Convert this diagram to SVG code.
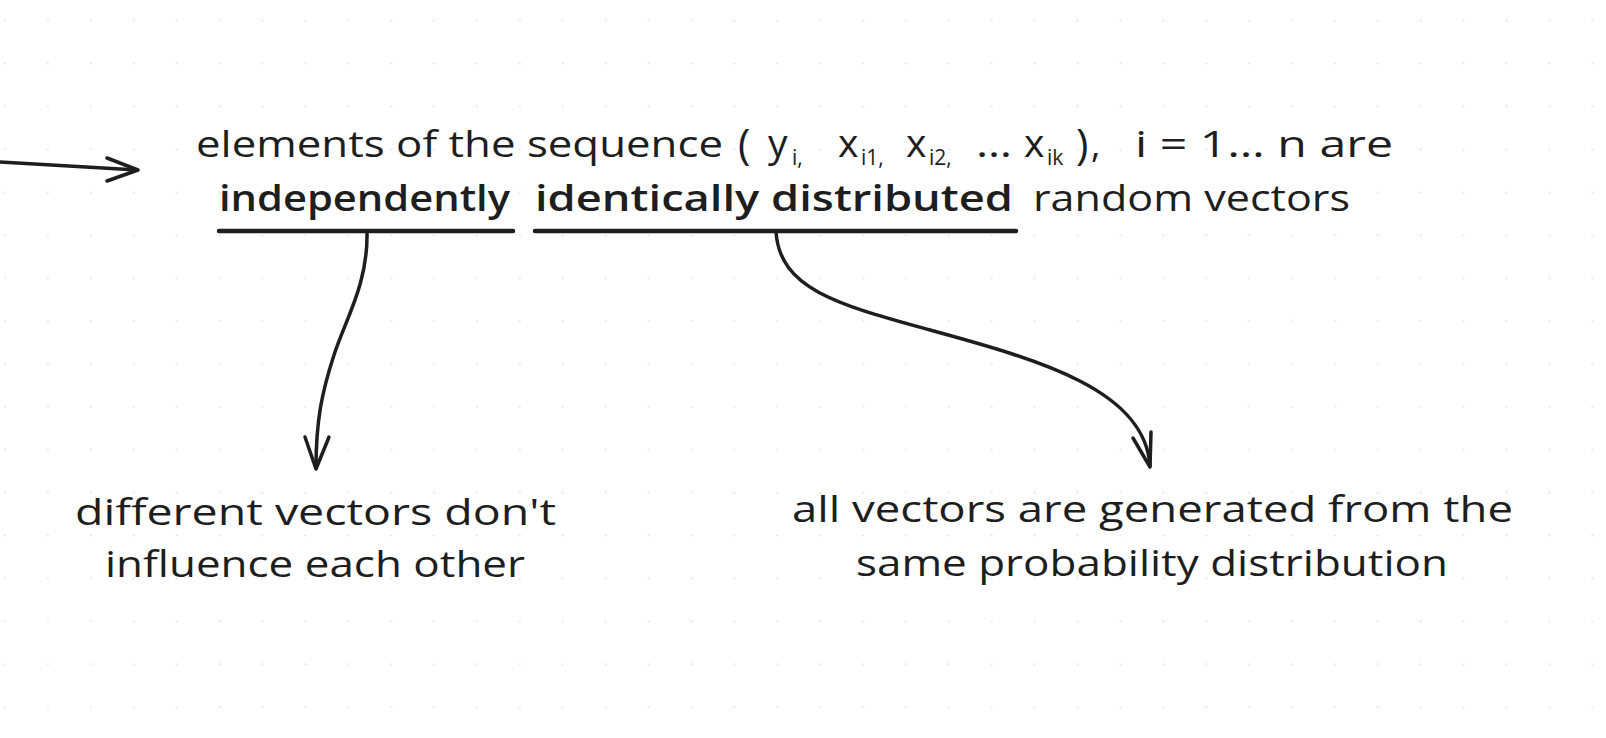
<svg xmlns="http://www.w3.org/2000/svg" width="1606" height="738" viewBox="0 0 1606 738">
<style>
.t{font-family:"Open Sans","Liberation Sans",sans-serif;font-size:36px;fill:#1e1e1e}
.v{font-family:"Open Sans","Liberation Sans",sans-serif;font-size:39px;fill:#1e1e1e}
.p{font-family:"Open Sans","Liberation Sans",sans-serif;font-size:42px;fill:#1e1e1e}
.s{font-family:"Open Sans","Liberation Sans",sans-serif;font-size:21px;fill:#1e1e1e}
.b{font-weight:600}
.ln{fill:none;stroke:#1e1e1e;stroke-width:3.5;stroke-linecap:round;stroke-linejoin:round}
.ul{fill:none;stroke:#1e1e1e;stroke-width:4.5;stroke-linecap:round}
</style>
<defs>
<pattern id="grid" x="-16.45" y="-0.75" width="42.9" height="42.9" patternUnits="userSpaceOnUse">
<circle cx="21.45" cy="21.45" r="1.1" fill="#e2e2e2"/>
</pattern>
</defs>
<rect width="1606" height="738" fill="#ffffff"/>
<rect width="1606" height="738" fill="url(#grid)"/>
<g id="connectors">
<path class="ln" d="M0,162 C40,164 100,168 137,170"/>
<path class="ln" d="M107,158 L138,170 L107,181"/>
<path class="ln" d="M367,232 C368,285 345,320 334,355 C322,392 316,420 316,468"/>
<path class="ln" d="M305,437 L316,469 L329,437"/>
<path class="ln" d="M776,232 C780,290 840,305 930,330 C1040,360 1145,390 1150,466"/>
<path class="ln" d="M1133,438 L1150,467 L1151,432"/>
</g>
<g id="statement">
<text class="t" x="196" y="157" textLength="527" lengthAdjust="spacingAndGlyphs">elements of the sequence</text>
<text class="p" x="738" y="159">(</text>
<text class="v" x="768" y="157">y</text>
<text class="s" x="792" y="165">i,</text>
<text class="v" x="838" y="157">x</text>
<text class="s" x="861" y="165">i1,</text>
<text class="v" x="906" y="157">x</text>
<text class="s" x="929" y="165">i2,</text>
<text class="t" x="976" y="157" textLength="36" lengthAdjust="spacingAndGlyphs">…</text>
<text class="v" x="1024" y="157">x</text>
<text class="s" x="1047" y="165">ik</text>
<text class="p" x="1076" y="159">)</text>
<text class="t" x="1091" y="157">,</text>
<text class="t" x="1135" y="157" textLength="258" lengthAdjust="spacingAndGlyphs">i = 1… n are</text>
<text class="t b" x="219" y="211" textLength="291" lengthAdjust="spacingAndGlyphs">independently</text>
<text class="t b" x="535" y="211" textLength="478" lengthAdjust="spacingAndGlyphs">identically distributed</text>
<text class="t" x="1033" y="211" textLength="317" lengthAdjust="spacingAndGlyphs">random vectors</text>
<path class="ul" d="M219,231 L513,231"/>
<path class="ul" d="M535,231 L1016,231"/>
</g>
<g id="independent-note">
<text class="t" x="75" y="525" textLength="481" lengthAdjust="spacingAndGlyphs">different vectors don't</text>
<text class="t" x="105" y="577" textLength="420" lengthAdjust="spacingAndGlyphs">influence each other</text>
</g>
<g id="identical-note">
<text class="t" x="792" y="522" textLength="721" lengthAdjust="spacingAndGlyphs">all vectors are generated from the</text>
<text class="t" x="856" y="576" textLength="592" lengthAdjust="spacingAndGlyphs">same probability distribution</text>
</g>
</svg>
